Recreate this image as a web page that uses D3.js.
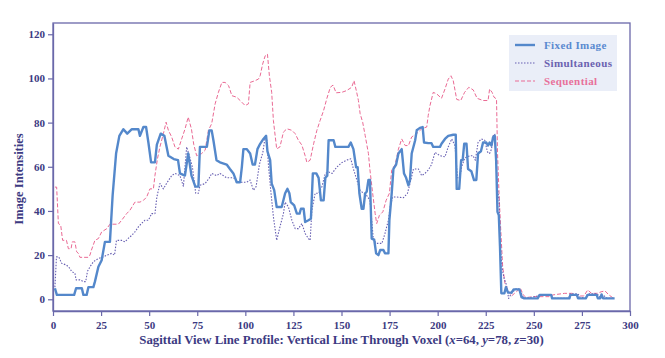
<!DOCTYPE html>
<html>
<head>
<meta charset="utf-8">
<script src="https://cdn.jsdelivr.net/npm/d3@7"></script>
<style>
  body { margin: 0; background: #fff; }
  text { font-family: "Liberation Serif", "Times New Roman", serif; font-weight: bold; }
</style>
</head>
<body>
<div id="chart"></div>
<script>
// values: [voxel position, intensity]
var fixedImage = [[1,5],[2,2],[11,2],[12,5],[15,5],[15.8,2],[17.5,2],[18.4,5.5],[21,5.5],[21.8,8],[23.6,14.7],[25.3,17.7],[27,26],[29.6,26],[31,47],[32.8,66],[34.5,74],[36.6,77],[38.6,75],[41,77],[44.4,77],[45.2,74],[47,78],[48.4,78],[49.6,71],[51,62],[53,62],[54,70],[56,75],[57.9,74],[60,65],[62.8,63.5],[65,63],[66,57],[68.6,56],[70.3,66],[72,56],[74,51],[75.6,51],[76.4,69],[80,69],[81.3,76.5],[82.5,76.5],[83.4,72],[85,63],[86.8,62],[90.3,61],[92,59],[93.8,57],[94.7,55],[95.5,53],[97.3,53],[98.2,60],[99,68],[100.7,68],[102.5,66],[103.8,61],[105,61],[106.3,68],[107.7,70.4],[109.4,72.6],[110.8,74],[111.5,67],[112.9,63],[113.7,52.4],[115,49.4],[116.3,41.8],[118.9,41.8],[120.7,48],[121.9,50],[122.9,48],[123.6,44],[125.4,42.5],[126.8,38.8],[128.2,38.8],[128.9,41],[130.3,41],[131.1,35],[132.8,35.8],[134.1,36.5],[135.1,57],[136.9,57],[138.1,55],[139.3,44.8],[140.7,44.8],[141.6,55],[142.6,56],[143.3,72],[145.9,72],[146.8,69],[153.6,69],[154.8,71],[156.2,68],[157.6,59.8],[158.4,59.8],[159.3,48],[160.5,41],[161.4,41],[162.3,48],[163.1,48.7],[164,54],[164.8,54],[165.7,27.5],[167,27],[168,20.8],[169.2,20],[170.1,22.3],[171.8,22.3],[172.6,20.8],[174.4,20.8],[174.9,35.8],[176.1,48],[177,59],[178.4,61],[179.6,66],[181.3,68],[182.5,57],[183.6,55],[184.8,51.6],[185.6,54],[186.5,66],[188.3,72],[189.1,76.5],[190.8,77.6],[192.2,78],[192.9,71],[195.1,70.7],[196.8,70.7],[197.7,69],[201.2,69],[202,70.4],[203.8,72.6],[205.5,74],[208.1,74.5],[209.4,74.5],[209.9,50],[211.2,50],[212.2,63],[213,63],[213.8,70.4],[215,70.4],[215.8,59],[217.5,58],[218.9,54],[220.1,54],[221,66],[222.5,67],[223.6,71],[225.3,71],[226.2,69.6],[227,71],[228,69.6],[228.8,73.4],[229.7,74],[230.4,63],[231.1,39.6],[231.8,38],[232.4,24],[233.1,2.7],[234.7,2.7],[235.5,5.5],[236.6,3],[238.4,3],[239.5,4.5],[242.5,4.5],[243.6,1],[245,0.4],[252,0.4],[253,2],[259,2],[259.5,0.4],[268.5,0.4],[269,2],[272.4,2],[273,0.4],[277,0.4],[278,2],[282.7,2],[283.3,0.4],[284.5,0.4],[285.2,2.2],[286,0.4],[292,0.4]];

var simultaneous = [[1,5.5],[1.8,19.2],[3,19.2],[4.5,16.3],[7,15.5],[8.8,14],[9.7,12.6],[11.4,11.8],[12,8.8],[14,8.8],[15.8,8],[17,8],[17.9,12.6],[19.2,14.7],[21,17],[23.6,18.5],[26.2,19.2],[28,20],[30.5,20.8],[32,20],[33,26.7],[35.7,26.7],[37.4,26],[39,27.5],[41,29],[42.6,30.5],[44.4,32.8],[46,34.3],[47.8,35.8],[49.6,35.8],[51.3,38.8],[53,38.8],[54,46.3],[55.6,52.4],[57.4,50],[59,52.4],[61.7,56],[63.4,57],[66,56],[67.8,51.2],[69.5,69],[71.2,64],[72.5,59.8],[74.2,48],[75.6,48],[76.4,51.6],[79.1,52.4],[81.3,55],[82.5,57],[85.1,56],[86.8,57],[90.3,55],[93.8,55],[96.4,53],[100.7,53],[102.5,54],[104.2,49.4],[105.6,51],[107.3,61],[109.1,66.5],[110.3,73.4],[111.2,72],[112,61],[113.2,49.4],[114.6,37.3],[116.3,26.7],[118,32.8],[119.8,38.8],[120.7,44],[122.4,41.8],[124.2,35.8],[125.9,32],[127.6,32],[129.4,34.3],[131.1,29.8],[132.8,27.5],[133.7,26.7],[134.6,40.3],[136.3,48],[138.1,48],[139.8,51],[141.6,57],[143.3,57.6],[145.1,57],[147.5,59.8],[150,61.8],[152.7,63],[154.8,63.6],[156.2,59],[158,54],[159.6,49.4],[161.4,48],[163.1,47],[164.8,44.8],[165.7,35.8],[166.6,26.7],[168.3,25.3],[171,25.3],[172.6,29.8],[174.4,35.8],[175.3,41.8],[176.6,46.3],[178.7,46.3],[182.2,46],[184.3,48],[185.6,52.4],[187.4,59],[190,59],[191.7,56],[193.4,57],[195.1,58.5],[196.8,61],[198.6,66.5],[201.2,65],[203.8,64.5],[205.5,69],[207.3,72.6],[209,69.6],[210.3,55],[211.5,55],[212.5,60],[214.1,64],[216.7,65],[218.4,65],[219.6,63],[221,71],[222.7,72.6],[224.5,72],[225.9,66.7],[227,66],[228,68],[228.8,74],[229.7,74.9],[231.1,50],[231.9,45],[232.6,24],[233.5,14],[234.5,9.5],[235.8,6.5],[236.9,0.4],[238.4,2.7],[241,5],[242.7,4.5],[244.4,1],[246,0.4],[252,1.5],[254,2.2],[259,2.2],[260,0.4],[268,0.4],[269,2.5],[273,2.5],[274,0.8],[277,0.8],[278,2.5],[283,2.5],[284,1],[286,2],[288,0.5],[292,0.5]];

var sequential = [[1,50.8],[1.9,50.8],[2.8,34.3],[4,33.6],[5,26.7],[7,26.7],[8,22.9],[9.4,22.9],[10,26],[11.4,26],[12.3,21.5],[13.2,20.8],[14,19],[18.4,19],[19.2,20],[20,22.3],[21.8,26.7],[23.6,27.5],[25.3,30.5],[28,32],[29.6,34],[34,34],[35.7,35.8],[38.3,38.8],[40,40.3],[42.6,44],[45.2,44],[47,44.8],[48.7,46.3],[50.4,50],[52.2,50],[53,56],[54.3,63.6],[55.6,69],[57.4,75],[58.8,80.2],[60,76.5],[61.7,73.5],[63.4,69],[65.2,68],[66.9,72.6],[68.6,77],[70.3,82.5],[72,77],[73.2,70],[74.7,65],[77.3,66],[79.1,67.5],[80.8,76.5],[82.5,79.5],[84.3,88.5],[86,93.7],[87.8,98.2],[89.5,98.2],[91.3,96.7],[93,92.2],[95.5,91.5],[97.3,90],[99.9,87.7],[101.6,88.5],[102.5,98.2],[105.1,99],[106.8,99.7],[107.7,101.2],[109,106.5],[110.3,110.2],[111.5,111],[112.5,101.2],[113.7,93.7],[114.6,80.9],[116.3,68.1],[118,69],[119.8,75.7],[121.6,77.2],[124.2,76.5],[125.9,75],[127.6,72],[129.4,69.8],[131.1,65],[132,62],[133.7,63],[135.5,70.4],[137.2,76.5],[138.9,81],[140.7,85.5],[142.4,91],[144.2,96],[145.6,97],[147.2,93.5],[150.1,93.7],[152.7,94.5],[155.3,96],[156.5,99],[157.9,93.7],[158.8,90],[159.7,84],[161,80.2],[162.3,74.2],[164,66],[164.8,58.5],[166.2,48],[167.5,38.8],[168.3,34.3],[169.7,38],[171.5,39.6],[173.2,44.8],[174.9,48],[176.1,58.5],[177.9,61],[179.6,68],[181.3,72.6],[183.1,69.6],[184.8,69.6],[186.5,73.5],[189.1,75],[191.7,77.2],[194.3,78],[195.1,83.3],[196,87.7],[197.7,93.7],[199.5,93],[202,91],[203.8,95.2],[205.5,99.7],[206.9,101.2],[208.1,99],[209.9,90.5],[212,90],[214,93.7],[216.2,96],[218.5,94.8],[220.5,91],[223.6,90],[226.2,90],[227,95.2],[228.3,93.7],[229.3,91.5],[230.6,90.7],[231.1,66.7],[231.9,48],[232.8,31.3],[233.8,14.7],[235,7.2],[236.6,4],[238.4,1.5],[241,3.5],[243,5],[244.5,2],[246,0.8],[250,1.2],[258,1.2],[260,2],[266,2.7],[270,2.7],[272,1.5],[276,1.5],[278,4.2],[280,2.7],[283,2.7],[285,3.4],[287,3.8],[289,2],[291.4,0.5]];

var seriesNames = ["Fixed Image", "Simultaneous", "Sequential"];
var xTicks = [0, 25, 50, 75, 100, 125, 150, 175, 200, 225, 250, 275, 300];
var yTicks = [0, 20, 40, 60, 80, 100, 120];

var W = 665, H = 358;
var plotLeft = 53, plotRight = 630, plotTop = 23, plotBottom = 311;
var axisColor = "#6a68aa", textColor = "#3c3a82";

var styles = [
    {color: "#5488cb", width: 2.4, dash: null},
    {color: "#675fb2", width: 1.1, dash: "1.5,1.5"},
    {color: "#ea6a94", width: 1, dash: "4,2"}
];

var svg = d3.select("#chart").append("svg")
    .attr("width", W)
    .attr("height", H);

var x = d3.scaleLinear().domain([0, 300]).range([plotLeft, plotRight]);
var y = d3.scaleLinear().domain([-5.3, 125.1]).range([plotBottom, plotTop]);

// frame around the plot
svg.append("rect")
    .attr("x", plotLeft).attr("y", plotTop)
    .attr("width", plotRight - plotLeft).attr("height", plotBottom - plotTop)
    .attr("fill", "none")
    .attr("stroke", axisColor)
    .attr("stroke-width", 1.3);

// axes
var xAxis = svg.append("g")
    .attr("transform", "translate(0," + plotBottom + ")")
    .call(d3.axisBottom(x).tickValues(xTicks).tickSize(5).tickSizeOuter(0));
var yAxis = svg.append("g")
    .attr("transform", "translate(" + plotLeft + ",0)")
    .call(d3.axisLeft(y).tickValues(yTicks).tickSize(5).tickSizeOuter(0));

[xAxis, yAxis].forEach(function(g){
    g.select(".domain").attr("stroke", axisColor).attr("stroke-width", 1.3);
    g.selectAll(".tick line").attr("stroke", axisColor).attr("stroke-width", 1.2);
    g.selectAll(".tick text")
        .attr("fill", textColor)
        .style("font-size", "11px")
        .style("font-family", "'Liberation Serif', 'Times New Roman', serif")
        .style("font-weight", "bold");
});
xAxis.selectAll(".tick text").attr("dy", "0.9em");

// lines
var line = d3.line()
    .x(function(d){ return x(d[0]); })
    .y(function(d){ return y(d[1]); });

var allSeries = [fixedImage, simultaneous, sequential];
// draw back to front so the blue line sits on top
[2, 1, 0].forEach(function(i){
    var path = svg.append("path")
        .datum(allSeries[i])
        .attr("d", line)
        .attr("fill", "none")
        .attr("stroke", styles[i].color)
        .attr("stroke-width", styles[i].width)
        .attr("stroke-linejoin", "round");
    if (styles[i].dash) path.attr("stroke-dasharray", styles[i].dash);
});

// axis titles
var xTitle = svg.append("text")
    .attr("x", (plotLeft + plotRight) / 2)
    .attr("y", 344)
    .attr("text-anchor", "middle")
    .attr("fill", textColor)
    .style("font-size", "12.8px");
xTitle.append("tspan").text("Sagittal View Line Profile: Vertical Line Through Voxel (");
xTitle.append("tspan").style("font-style", "italic").text("x");
xTitle.append("tspan").text("=64, ");
xTitle.append("tspan").style("font-style", "italic").text("y");
xTitle.append("tspan").text("=78, ");
xTitle.append("tspan").style("font-style", "italic").text("z");
xTitle.append("tspan").text("=30)");

svg.append("text")
    .attr("transform", "translate(23," + ((plotTop + plotBottom) / 2 + 12) + ") rotate(-90)")
    .attr("text-anchor", "middle")
    .attr("fill", textColor)
    .style("font-size", "12.5px")
    .text("Image Intensities");

// legend
var legend = svg.append("g").attr("transform", "translate(509,35)");
legend.append("rect")
    .attr("width", 108).attr("height", 56)
    .attr("fill", "#eaeef8");

var textColors = ["#5a8ad0", "#6a62b0", "#e8709a"];
seriesNames.forEach(function(name, i){
    var row = legend.append("g").attr("transform", "translate(0," + (10 + i * 18) + ")");
    var sample = row.append("line")
        .attr("x1", 6).attr("x2", 26)
        .attr("y1", 0).attr("y2", 0)
        .attr("stroke", styles[i].color)
        .attr("stroke-width", styles[i].width);
    if (styles[i].dash) sample.attr("stroke-dasharray", styles[i].dash);
    row.append("text")
        .attr("x", 35).attr("y", 4)
        .attr("fill", textColors[i])
        .style("font-size", "11px")
        .style("letter-spacing", "0.4px")
        .text(name);
});
</script>
</body>
</html>
